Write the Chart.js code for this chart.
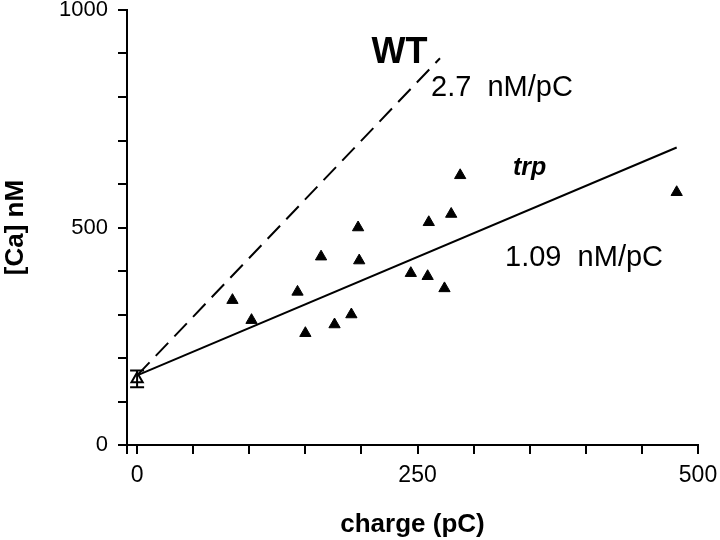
<!DOCTYPE html>
<html>
<head>
<meta charset="utf-8">
<script src="https://cdn.jsdelivr.net/npm/chart.js@4/dist/chart.umd.min.js"></script>
<style>
  html, body { margin: 0; padding: 0; background: #fff; }
  #wrap { width: 720px; height: 540px; }
</style>
</head>
<body>
<div id="wrap"><canvas id="chart"></canvas></div>
<script>
/* ── Data ── */
const trpCharge = [85, 102, 143, 150, 164, 176, 191, 197, 198, 244, 259, 260, 274, 280, 288, 481];
const trpCa     = [333, 287, 352, 257, 433, 277, 300, 500, 424, 395, 388, 512, 360, 531, 620, 581];

const ctrlCharge = [0];
const ctrlCa     = [152];
const ctrlLow    = [133];
const ctrlHigh   = [171];

// fitted lines: [Ca] = 160 + slope * charge
const trpFitX = [0, 481];
const trpFitY = [160, 684];
const wtFitX  = [0, 270];
const wtFitY  = [160, 889];

const xTicks = [-9, 0, 50, 100, 150, 200, 250, 300, 350, 400, 450, 500];
const xTickLabels = [0, 250, 500];
const yTickLabels = [0, 500, 1000];

/* ── Text annotations (anchored in data units) ── */
const notes = [
    { text: 'WT',           x: 209, y: 878, font: 'bold 36px "Liberation Sans", Arial, sans-serif' },
    { text: '2.7  nM/pC',   x: 262, y: 802, font: '29px "Liberation Sans", Arial, sans-serif' },
    { text: 'trp',          x: 335, y: 621, font: 'italic bold 25px "Liberation Sans", Arial, sans-serif' },
    { text: '1.09  nM/pC',  x: 328, y: 411, font: '29px "Liberation Sans", Arial, sans-serif' }
];

const FONT = '"Liberation Sans", Arial, sans-serif';
const toXY = (xs, ys) => xs.map((x, i) => ({ x, y: ys[i] }));

/* ── Error bar + annotation plugin ── */
const extras = {
    id: 'extras',
    afterDatasetsDraw(chart) {
        const { ctx, scales: { x, y } } = chart;
        ctx.save();
        ctx.strokeStyle = '#000';
        ctx.lineWidth = 2;
        ctrlCharge.forEach((c, i) => {
            const px = x.getPixelForValue(c);
            const lo = y.getPixelForValue(ctrlLow[i]);
            const hi = y.getPixelForValue(ctrlHigh[i]);
            ctx.beginPath();
            ctx.moveTo(px, lo); ctx.lineTo(px, hi);
            ctx.moveTo(px - 7, lo); ctx.lineTo(px + 7, lo);
            ctx.moveTo(px - 7, hi); ctx.lineTo(px + 7, hi);
            ctx.stroke();
        });
        ctx.fillStyle = '#000';
        ctx.textAlign = 'left';
        ctx.textBaseline = 'alphabetic';
        notes.forEach(n => {
            ctx.font = n.font;
            ctx.fillText(n.text, x.getPixelForValue(n.x), y.getPixelForValue(n.y));
        });
        ctx.restore();
    }
};

new Chart(document.getElementById('chart'), {
    type: 'scatter',
    data: {
        datasets: [
            {
                label: 'WT fit',
                type: 'line',
                data: toXY(wtFitX, wtFitY),
                borderColor: '#000',
                borderWidth: 2,
                borderDash: [18, 9],
                pointRadius: 0,
                fill: false
            },
            {
                label: 'trp fit',
                type: 'line',
                data: toXY(trpFitX, trpFitY),
                borderColor: '#000',
                borderWidth: 2,
                pointRadius: 0,
                fill: false
            },
            {
                label: 'trp',
                data: toXY(trpCharge, trpCa),
                pointStyle: 'triangle',
                pointRadius: 6.5,
                backgroundColor: '#000',
                borderColor: '#000',
                borderWidth: 1
            },
            {
                label: 'control',
                data: toXY(ctrlCharge, ctrlCa),
                pointStyle: 'triangle',
                pointRadius: 6.5,
                backgroundColor: '#fff',
                borderColor: '#000',
                borderWidth: 2
            }
        ]
    },
    options: {
        responsive: true,
        maintainAspectRatio: false,
        animation: false,
        events: [],
        layout: { padding: { top: 10, right: 22, bottom: 0, left: 0 } },
        plugins: { legend: { display: false }, tooltip: { enabled: false } },
        scales: {
            x: {
                type: 'linear',
                min: -9,
                max: 500,
                afterFit: s => { s.height = 95; s.paddingLeft = 0; s.paddingRight = 0; },
                afterBuildTicks: s => { s.ticks = xTicks.map(value => ({ value })); },
                ticks: {
                    padding: 8,
                    color: '#000',
                    font: { family: FONT, size: 23 },
                    maxRotation: 0,
                    autoSkip: false,
                    callback: v => xTickLabels.includes(v) ? String(v) : ''
                },
                grid: { drawOnChartArea: false, drawTicks: true, tickLength: 9, color: '#000', lineWidth: 2 },
                border: { display: true, color: '#000', width: 2 },
                title: {
                    display: true,
                    text: 'charge (pC)',
                    color: '#000',
                    font: { family: FONT, size: 26, weight: 'bold' },
                    padding: { top: 0, bottom: 0 }
                }
            },
            y: {
                type: 'linear',
                min: 0,
                max: 1000,
                afterFit: s => { s.width = 127; s.paddingTop = 0; s.paddingBottom = 0; },
                ticks: {
                    stepSize: 100,
                    padding: 10,
                    color: '#000',
                    font: { family: FONT, size: 22 },
                    autoSkip: false,
                    callback: v => yTickLabels.includes(v) ? String(v) : ''
                },
                grid: { drawOnChartArea: false, drawTicks: true, tickLength: 9, color: '#000', lineWidth: 2 },
                border: { display: true, color: '#000', width: 2 },
                title: {
                    display: true,
                    text: '[Ca] nM',
                    color: '#000',
                    font: { family: FONT, size: 26, weight: 'bold' },
                    padding: { top: 0, bottom: 0 }
                }
            }
        }
    },
    plugins: [extras]
});
</script>
</body>
</html>
